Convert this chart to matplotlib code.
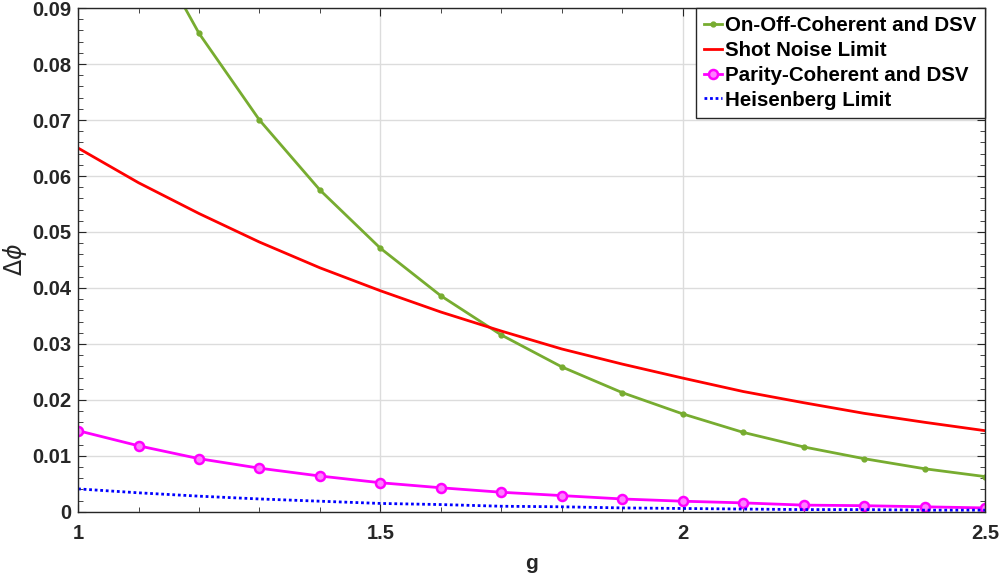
import numpy as np
import matplotlib.pyplot as plt
from matplotlib.ticker import MultipleLocator

plt.rcParams['font.family'] = ['Liberation Sans', 'DejaVu Sans']

# gain values
g = [1.0, 1.1, 1.2, 1.3, 1.4, 1.5, 1.6, 1.7, 1.8, 1.9, 2.0, 2.1, 2.2, 2.3, 2.4, 2.5]

onoff = [0.128, 0.105, 0.0855, 0.0700, 0.0575, 0.0471, 0.0386, 0.0316,
         0.0259, 0.0213, 0.0175, 0.0142, 0.0116, 0.0095, 0.0077, 0.0063]
shot = [0.0650, 0.0588, 0.0533, 0.0482, 0.0436, 0.0395, 0.0357, 0.0323,
        0.0291, 0.0264, 0.0239, 0.0215, 0.0195, 0.0176, 0.0160, 0.0145]
parity = [0.0145, 0.0118, 0.0095, 0.0078, 0.0064, 0.0052, 0.0043, 0.0035,
          0.0029, 0.0023, 0.0019, 0.0016, 0.0012, 0.0011, 0.0009, 0.0007]
heis = [0.0041, 0.0034, 0.0028, 0.0023, 0.0019, 0.0015, 0.0013, 0.0010,
        0.0009, 0.0007, 0.0006, 0.0005, 0.0004, 0.0004, 0.0003, 0.0003]

xticks = [1, 1.5, 2, 2.5]
xticklabels = ['1', '1.5', '2', '2.5']
yticks = [0, 0.01, 0.02, 0.03, 0.04, 0.05, 0.06, 0.07, 0.08, 0.09]
yticklabels = ['0', '0.01', '0.02', '0.03', '0.04', '0.05', '0.06', '0.07', '0.08', '0.09']

fig = plt.figure(figsize=(10.01, 5.79), dpi=100)
ax = fig.add_axes([0.078, 0.116, 0.906, 0.870])

ax.plot(g, onoff, color='#77AC30', lw=2, marker='o', ms=3.5, label='On-Off-Coherent and DSV')
ax.plot(g, shot, color='#FF0000', lw=2, label='Shot Noise Limit')
ax.plot(g, parity, color='#FF00FF', lw=2, marker='o', ms=6.5, mfc='#FF7FFF', mew=1.8,
        label='Parity-Coherent and DSV')
ax.plot(g, heis, color='#0000FF', lw=2, ls=(0, (1, 1)), label='Heisenberg Limit')

ax.set_xlim(1, 2.5)
ax.set_ylim(0, 0.09)
ax.xaxis.set_minor_locator(MultipleLocator(0.1))
ax.yaxis.set_minor_locator(MultipleLocator(0.002))
ax.set_xticks(xticks, xticklabels, fontweight='bold')
ax.set_yticks(yticks, yticklabels, fontweight='bold')

ax.grid(True, which='major', color='#DCDCDC', lw=1)
ax.set_axisbelow(True)
ax.tick_params(which='both', direction='in', top=True, right=True, color='#262626',
               labelsize=14.5, labelcolor='#262626')
ax.tick_params(which='major', length=6)
ax.tick_params(which='minor', length=3.5)
ax.tick_params(axis='x', pad=9)
ax.tick_params(axis='y', pad=5)
for s in ax.spines.values():
    s.set_color('#262626')
    s.set_linewidth(1)

ax.set_xlabel('g', fontsize=15, fontweight='bold', color='#262626', labelpad=8)
ax.set_ylabel(r'$\Delta\phi$', fontsize=17, color='#262626', labelpad=2)

leg = ax.legend(loc='upper right', prop={'size': 14.8, 'weight': 'bold'}, borderaxespad=0,
                fancybox=False, edgecolor='#262626', framealpha=1, handlelength=0.9,
                handletextpad=0.15, labelspacing=0.28, borderpad=0.4)
leg.get_frame().set_linewidth(1)

fig.savefig('out.png', dpi=100)
